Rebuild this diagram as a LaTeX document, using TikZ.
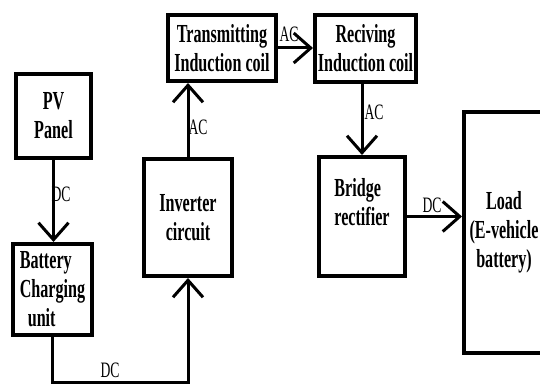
\documentclass[tikz,border=0pt]{standalone}
\usepackage{fontspec}
\setmainfont{Liberation Serif}[FakeStretch=0.62]
\usetikzlibrary{arrows.meta}

\tikzset{
    blockbox/.style={draw, line width=4pt, align=center, inner sep=2pt,
        font=\bfseries\fontsize{26}{29}\selectfont},
    conn/.style={line width=3pt, -{Straight Barb[length=17pt,width=30pt]}},
    lbl/.style={font=\fontsize{22}{22}\selectfont, inner sep=0pt}
}

\begin{document}
\begin{tikzpicture}[x=1pt, y=-1pt]
        \useasboundingbox (0,0) rectangle (540,385);

        % Draw blocks
        \node[blockbox, minimum width=75pt, minimum height=84pt] (pv) at (53.5,116) {PV\\Panel};
        \node[blockbox, align=left, minimum width=79pt, minimum height=91pt] (batt) at (52.5,289.5) {Battery\\Charging\\\hspace{8pt}unit};
        \node[blockbox, minimum width=88pt, minimum height=117pt] (inv) at (188,217.5) {Inverter\\circuit};
        \node[blockbox, minimum width=108pt, minimum height=66pt] (trans) at (222,48) {Transmitting\\Induction coil};
        \node[blockbox, minimum width=101pt, minimum height=67pt] (rec) at (365.5,48.5) {Reciving\\Induction coil};
        \node[blockbox, align=left, minimum width=86pt, minimum height=119pt] (bridge) at (362,216.5) {Bridge\\rectifier\\\mbox{}};
        \node[blockbox, minimum width=80pt, minimum height=241pt] (load) at (504,232.5) {Load\\(E-vehicle\\battery)};

        % Draw connectors
        \coordinate (dcrun) at (0,382);
        \draw[conn] (pv.south) -- (pv.south |- batt.north);
        \draw[conn] (batt.south) -- (batt.south |- dcrun) -| (inv.south);
        \draw[conn] (inv.north) -- (inv.north |- trans.south);
        \draw[conn] (trans.east) -- (trans.east -| rec.west);
        \draw[conn] (bridge.north |- rec.south) -- (bridge.north);
        \draw[conn] (bridge.east) -- (bridge.east -| load.west);

        % Draw labels
        \node[lbl] (dcpv) at (61,194) {DC};
        \node[lbl] (dcbatt) at (110,370) {DC};
        \node[lbl] (acinv) at (198,127) {AC};
        \node[lbl] (actrans) at (289,34) {AC};
        \node[lbl] (acrec) at (374,112) {AC};
        \node[lbl] (dcbridge) at (432,205) {DC};
    \end{tikzpicture}
\end{document}
